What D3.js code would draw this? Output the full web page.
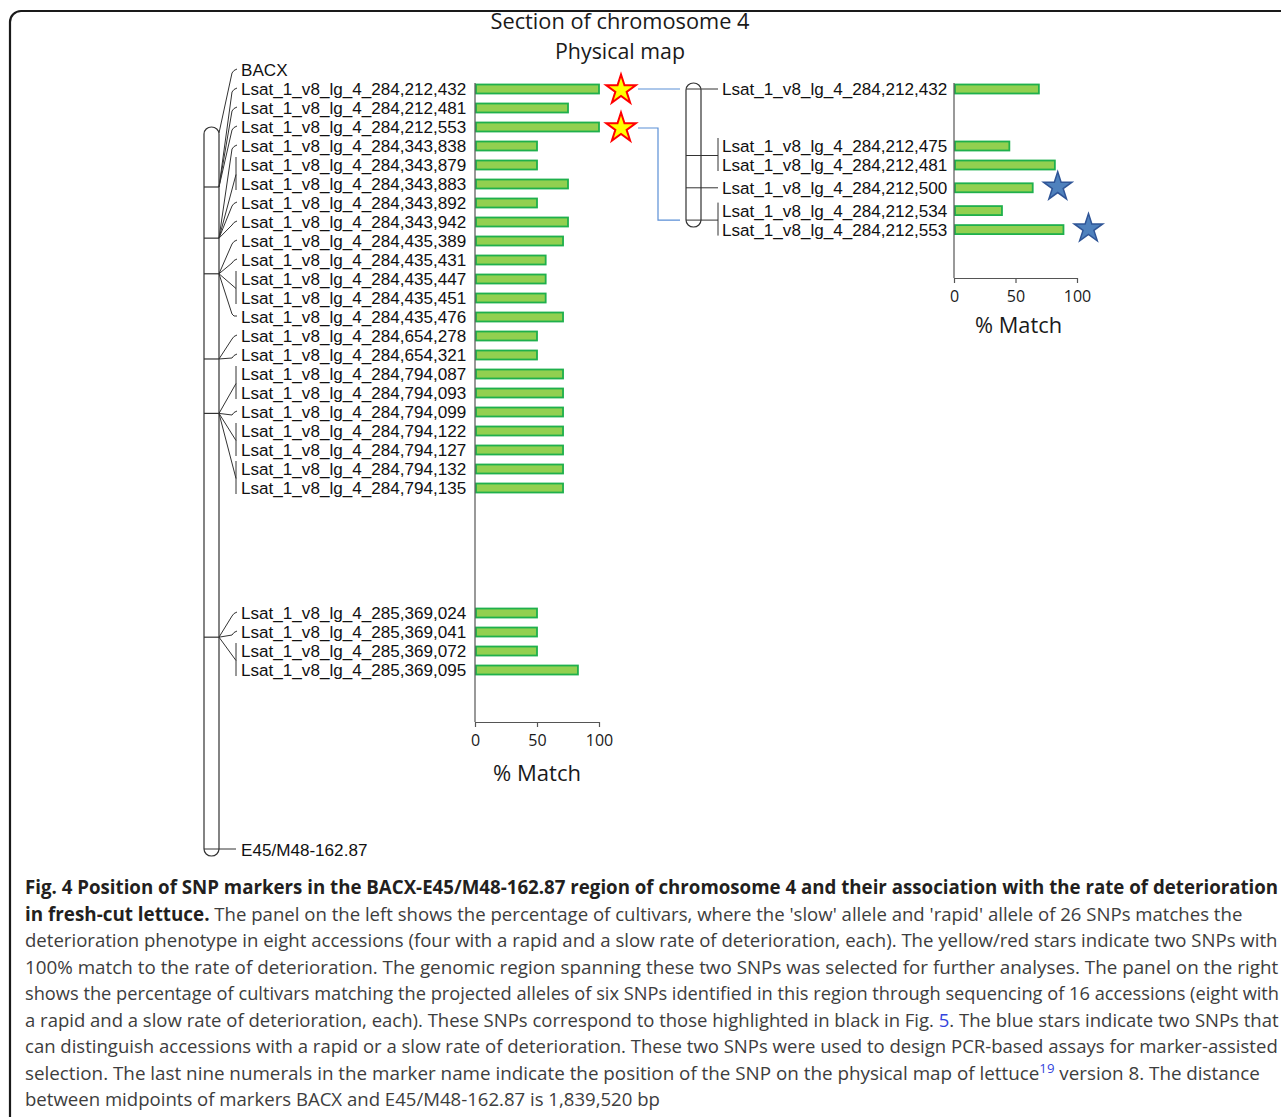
<!DOCTYPE html>
<html>
<head>
<meta charset="utf-8">
<script src="https://cdn.jsdelivr.net/npm/d3@7"></script>
<style>
  body { margin: 0; background: #fff; }
  svg { display: block; }
</style>
</head>
<body>
<div id="chart"></div>
<script>
// markers of the left panel (position on chromosome 4, physical map v8)
var leftMarkers = ["284,212,432", "284,212,481", "284,212,553", "284,343,838", "284,343,879",
    "284,343,883", "284,343,892", "284,343,942", "284,435,389", "284,435,431", "284,435,447",
    "284,435,451", "284,435,476", "284,654,278", "284,654,321", "284,794,087", "284,794,093",
    "284,794,099", "284,794,122", "284,794,127", "284,794,132", "284,794,135", "285,369,024",
    "285,369,041", "285,369,072", "285,369,095"];
// % match, left panel
var leftMatch = [100, 75, 100, 50, 50, 75, 50, 75, 71, 57, 57, 57, 71, 50, 50, 71, 71, 71,
    71, 71, 71, 71, 50, 50, 50, 83];
var leftBrackets = [["284,343,879", "284,343,883"], ["284,435,447", "284,435,451"],
    ["284,794,087", "284,794,093"], ["284,794,122", "284,794,127"],
    ["284,794,132", "284,794,135"], ["285,369,072", "285,369,095"]];
var leftStars = ["284,212,432", "284,212,553"];

// markers of the right panel (zoom on 284,212,432 - 284,212,553)
var rightMarkers = ["284,212,432", "284,212,475", "284,212,481", "284,212,500", "284,212,534", "284,212,553"];
var rightMatch = [69, 45, 82, 64, 39, 89];
var rightBrackets = [["284,212,475", "284,212,481"], ["284,212,534", "284,212,553"]];
var rightStars = ["284,212,500", "284,212,553"];

var prefix = "Lsat_1_v8_lg_4_";
var topMarker = "BACX", bottomMarker = "E45/M48-162.87";
var bacxStart = 284073700, regionLength = 1839520;
var tickValues = [0, 50, 100];
var titleLines = ["Section of chromosome 4", "Physical map"];
var axisTitle = "% Match";

// caption lines: [text, style] pieces
var caption = [
  [["Fig. 4 Position of SNP markers in the BACX-E45/M48-162.87 region of chromosome 4 and their association with the rate of deterioration", "b"]],
  [["in fresh-cut lettuce.", "b"], [" The panel on the left shows the percentage of cultivars, where the 'slow' allele and 'rapid' allele of 26 SNPs matches the", "r"]],
  [["deterioration phenotype in eight accessions (four with a rapid and a slow rate of deterioration, each). The yellow/red stars indicate two SNPs with", "r"]],
  [["100% match to the rate of deterioration. The genomic region spanning these two SNPs was selected for further analyses. The panel on the right", "r"]],
  [["shows the percentage of cultivars matching the projected alleles of six SNPs identified in this region through sequencing of 16 accessions (eight with", "r"]],
  [["a rapid and a slow rate of deterioration, each). These SNPs correspond to those highlighted in black in Fig. ", "r"], ["5", "link"], [". The blue stars indicate two SNPs that", "r"]],
  [["can distinguish accessions with a rapid or a slow rate of deterioration. These two SNPs were used to design PCR-based assays for marker-assisted", "r"]],
  [["selection. The last nine numerals in the marker name indicate the position of the SNP on the physical map of lettuce", "r"], ["19", "sup"], [" version 8. The distance", "r"]],
  [["between midpoints of markers BACX and E45/M48-162.87 is 1,839,520 bp", "r"]]
];
// right end of each caption line in the figure (last line runs free)
var captionEnds = [1278, 1243, 1278, 1278, 1279, 1279, 1278, 1260, null];

var W = 1281, H = 1117;
var labelFont = "'Liberation Sans', Arial, sans-serif";
var labelSize = "17.1px";
var uiFont = "'Open Sans', sans-serif";
var green = "#92d050", greenStroke = "#1fb04c", lineCol = "#333", axisCol = "#555", blue = "#5b8fd6";

var svg = d3.select("#chart").append("svg")
    .attr("width", W).attr("height", H);

// frame
svg.append("path")
    .attr("d", "M10," + H + " L10,22 A11,11 0 0 1 21,11 L" + (W + 5) + ",11")
    .attr("fill", "none").attr("stroke", "#1a1a1a").attr("stroke-width", 2.2);

// titles
svg.selectAll(".title").data(titleLines).join("text")
    .attr("x", 620).attr("y", (d, i) => 29 + i * 30)
    .attr("text-anchor", "middle")
    .attr("textLength", (d, i) => i ? 130 : 259)
    .attr("lengthAdjust", "spacingAndGlyphs")
    .style("font-family", uiFont).style("font-size", "22px").style("fill", "#1a1a1a")
    .text(d => d);

function pos(name) { return +name.replace(/,/g, ""); }

// ---------- left panel ----------
var chrY = d3.scaleLinear().domain([bacxStart, bacxStart + regionLength]).range([133, 849]);
var gapSlots = 5.58;
var slot = d3.scaleLinear().domain([0, 1]).range([89, 108]);
function leftRowY(i) { return slot(i < 22 ? i : i + gapSlots); }

var xL = d3.scaleLinear().domain([0, 100]).range([475, 599]);
var leftAxisY = 722;

var chrL = svg.append("g");
chrL.append("rect").attr("x", 204).attr("y", 127).attr("width", 15).attr("height", 729)
    .attr("rx", 7.5).attr("ry", 7)
    .attr("fill", "#fff").attr("stroke", lineCol).attr("stroke-width", 1.2);

function hookPath(x0, y0, yL) {
  var s = y0 > yL ? 1 : -1;
  return "M" + x0 + "," + y0 + " L232," + (yL + 3 * s) + " Q233.5," + yL + " 237," + (yL - 1);
}

// BACX on top of the region
chrL.append("path").attr("d", hookPath(219, chrY(bacxStart), 70))
    .attr("fill", "none").attr("stroke", lineCol).attr("stroke-width", 1);
svg.append("text").attr("x", 241).attr("y", 70).attr("dy", "0.35em")
    .style("font-family", labelFont).style("font-size", labelSize).style("fill", "#111")
    .text(topMarker);
// E45/M48 at the end of the region
chrL.append("line").attr("x1", 204).attr("x2", 236)
    .attr("y1", chrY(bacxStart + regionLength)).attr("y2", chrY(bacxStart + regionLength))
    .attr("stroke", lineCol).attr("stroke-width", 1);
svg.append("text").attr("x", 241).attr("y", 850).attr("dy", "0.35em")
    .style("font-family", labelFont).style("font-size", labelSize).style("fill", "#111")
    .text(bottomMarker);

var leftIdx = leftMarkers.map((m, i) => ({name: m, i: i, pos: pos(m)}));
var groups = d3.groups(leftIdx, d => Math.floor(d.pos / 1000));
groups.forEach(function(g) {
  var items = g[1];
  var hubY = chrY(d3.min(items, d => d.pos));
  chrL.append("line").attr("x1", 204).attr("x2", 219).attr("y1", hubY).attr("y2", hubY)
      .attr("stroke", lineCol).attr("stroke-width", 1.2);
  var done = {};
  items.forEach(function(d) {
    if (done[d.name]) return;
    var br = leftBrackets.find(b => b[0] === d.name);
    if (br) {
      var yA = leftRowY(leftMarkers.indexOf(br[0])), yB = leftRowY(leftMarkers.indexOf(br[1]));
      br.forEach(n => done[n] = true);
      chrL.append("path").attr("d", "M219," + hubY + " L236," + ((yA + yB) / 2))
          .attr("fill", "none").attr("stroke", lineCol).attr("stroke-width", 1);
      chrL.append("line").attr("x1", 236).attr("x2", 236).attr("y1", yA - 8).attr("y2", yB + 6)
          .attr("stroke", lineCol).attr("stroke-width", 1);
    } else {
      chrL.append("path").attr("d", hookPath(219, hubY, leftRowY(d.i)))
          .attr("fill", "none").attr("stroke", lineCol).attr("stroke-width", 1);
    }
  });
});

svg.append("g").selectAll("text").data(leftMarkers).join("text")
    .attr("x", 241).attr("y", (d, i) => leftRowY(i)).attr("dy", "0.35em")
    .style("font-family", labelFont).style("font-size", labelSize).style("fill", "#111")
    .text(d => prefix + d);

svg.append("g").selectAll("rect").data(leftMatch).join("rect")
    .attr("x", xL(0) + 1).attr("y", (d, i) => leftRowY(i) - 4.5)
    .attr("width", d => xL(d) - xL(0) - 1).attr("height", 9)
    .attr("fill", green).attr("stroke", greenStroke).attr("stroke-width", 1.8);

// axes
svg.append("line").attr("x1", xL(0)).attr("x2", xL(0)).attr("y1", 83).attr("y2", leftAxisY)
    .attr("stroke", axisCol).attr("stroke-width", 1.2);
var axL = svg.append("g").attr("transform", "translate(0," + leftAxisY + ")")
    .call(d3.axisBottom(xL).tickValues(tickValues).tickSize(5).tickSizeOuter(0).tickPadding(8));

svg.append("text").attr("x", (xL(0) + xL(100)) / 2).attr("y", 781)
    .attr("text-anchor", "middle").attr("textLength", 88).attr("lengthAdjust", "spacingAndGlyphs")
    .style("font-family", uiFont).style("font-size", "21px").style("fill", "#1a1a1a")
    .text(axisTitle);

// red/yellow stars
var starL = d3.symbol().type(d3.symbolStar).size(15.5 * 15.5 / 0.8908);
svg.append("g").selectAll("path").data(leftStars).join("path")
    .attr("transform", d => {
      var i = leftMarkers.indexOf(d);
      return "translate(" + (xL(leftMatch[i]) + 22) + "," + (leftRowY(i) + 1) + ")";
    })
    .attr("d", starL).attr("fill", "#ffff00").attr("stroke", "#ff0000").attr("stroke-width", 2);

// ---------- right panel ----------
var rightSlots = [0, 3, 4, 5.2, 6.4, 7.4];
function rightRowY(i) { return slot(rightSlots[i]); }
var xR = d3.scaleLinear().domain([0, 100]).range([954, 1077]);
var rightAxisY = 278;

var chrR = svg.append("g");
chrR.append("rect").attr("x", 686).attr("y", 83).attr("width", 15).attr("height", 144)
    .attr("rx", 7.5).attr("ry", 7)
    .attr("fill", "#fff").attr("stroke", lineCol).attr("stroke-width", 1.2);

var doneR = {}, hubR = {};
rightMarkers.forEach(function(m, i) {
  if (doneR[m]) return;
  var br = rightBrackets.find(b => b[0] === m);
  if (br) {
    var yA = rightRowY(rightMarkers.indexOf(br[0])), yB = rightRowY(rightMarkers.indexOf(br[1]));
    var yM = (yA + yB) / 2;
    br.forEach(n => { doneR[n] = true; hubR[n] = yM; });
    chrR.append("line").attr("x1", 686).attr("x2", 718).attr("y1", yM).attr("y2", yM)
        .attr("stroke", lineCol).attr("stroke-width", 1);
    chrR.append("line").attr("x1", 718).attr("x2", 718).attr("y1", yA - 8).attr("y2", yB + 6)
        .attr("stroke", lineCol).attr("stroke-width", 1);
  } else {
    hubR[m] = rightRowY(i);
    chrR.append("line").attr("x1", 686).attr("x2", 718).attr("y1", rightRowY(i)).attr("y2", rightRowY(i))
        .attr("stroke", lineCol).attr("stroke-width", 1);
  }
});

svg.append("g").selectAll("text").data(rightMarkers).join("text")
    .attr("x", 722).attr("y", (d, i) => rightRowY(i)).attr("dy", "0.35em")
    .style("font-family", labelFont).style("font-size", labelSize).style("fill", "#111")
    .text(d => prefix + d);

svg.append("g").selectAll("rect").data(rightMatch).join("rect")
    .attr("x", xR(0) + 1).attr("y", (d, i) => rightRowY(i) - 4.5)
    .attr("width", d => xR(d) - xR(0) - 1).attr("height", 9)
    .attr("fill", green).attr("stroke", greenStroke).attr("stroke-width", 1.8);

svg.append("line").attr("x1", xR(0)).attr("x2", xR(0)).attr("y1", 83).attr("y2", rightAxisY)
    .attr("stroke", axisCol).attr("stroke-width", 1.2);
var axR = svg.append("g").attr("transform", "translate(0," + rightAxisY + ")")
    .call(d3.axisBottom(xR).tickValues(tickValues).tickSize(5).tickSizeOuter(0).tickPadding(8));

svg.append("text").attr("x", (xR(0) + xR(100)) / 2 + 3).attr("y", 333)
    .attr("text-anchor", "middle").attr("textLength", 87).attr("lengthAdjust", "spacingAndGlyphs")
    .style("font-family", uiFont).style("font-size", "21px").style("fill", "#1a1a1a")
    .text(axisTitle);

[axL, axR].forEach(function(ax) {
  ax.select(".domain").attr("stroke", axisCol).attr("stroke-width", 1.2);
  ax.selectAll(".tick line").attr("stroke", axisCol).attr("stroke-width", 1.2);
  ax.selectAll(".tick text").style("font-family", uiFont).style("font-size", "16px").style("fill", "#1a1a1a");
});

// blue stars
var starR = d3.symbol().type(d3.symbolStar).size(15 * 15 / 0.8908);
svg.append("g").selectAll("path").data(rightStars).join("path")
    .attr("transform", d => {
      var i = rightMarkers.indexOf(d);
      return "translate(" + (xR(rightMatch[i]) + 25) + "," + (rightRowY(i) - 1) + ")";
    })
    .attr("d", starR).attr("fill", "#4f81bd").attr("stroke", "#2f5597").attr("stroke-width", 1.5);

// blue connectors from the starred SNPs to the zoomed map
var s1 = leftRowY(leftMarkers.indexOf(leftStars[0])), s2 = leftRowY(leftMarkers.indexOf(leftStars[1]));
var x0 = xL(100) + 39;
svg.append("path")
    .attr("d", "M" + x0 + "," + s1 + " L680," + hubR[leftStars[0]])
    .attr("fill", "none").attr("stroke", blue).attr("stroke-width", 1.2);
svg.append("path")
    .attr("d", "M" + x0 + "," + (s2 + 1) + " L658," + (s2 + 1) + " L658," + hubR[leftStars[1]] + " L680," + hubR[leftStars[1]])
    .attr("fill", "none").attr("stroke", blue).attr("stroke-width", 1.2);

// ---------- caption ----------
var cap = svg.append("g");
var styles = {
  b: {weight: 700, fill: "#231f20"},
  r: {weight: 400, fill: "#3d3d3d"},
  link: {weight: 400, fill: "#3344dd"},
  sup: {weight: 400, fill: "#3344dd"}
};
function drawLine(pieces, i, scale) {
  var t = cap.append("text").attr("x", 25).attr("y", 894 + i * 26.5)
      .style("font-family", uiFont);
  pieces.forEach(function(p, k) {
    var st = styles[p[1]];
    var size = p[1] === "b" ? 16.6 : p[1] === "sup" ? 11.5 : 16.4;
    var ts = t.append("tspan").text(p[0])
        .style("font-weight", st.weight).style("fill", st.fill)
        .style("font-size", (size * scale) + "px");
    if (p[1] === "sup") ts.attr("dy", -7);
    else if (k > 0 && pieces[k - 1][1] === "sup") ts.attr("dy", 7);
  });
  return t;
}
// fit every full line to its width in the figure; the last line takes the mean scale
var scales = [];
caption.forEach(function(l, i) {
  var t = drawLine(l, i, 1);
  var sc = captionEnds[i] ? (captionEnds[i] - 25) / t.node().getComputedTextLength() : d3.mean(scales.slice(1));
  scales.push(sc);
  t.remove();
  drawLine(l, i, sc);
});
</script>
</body>
</html>
